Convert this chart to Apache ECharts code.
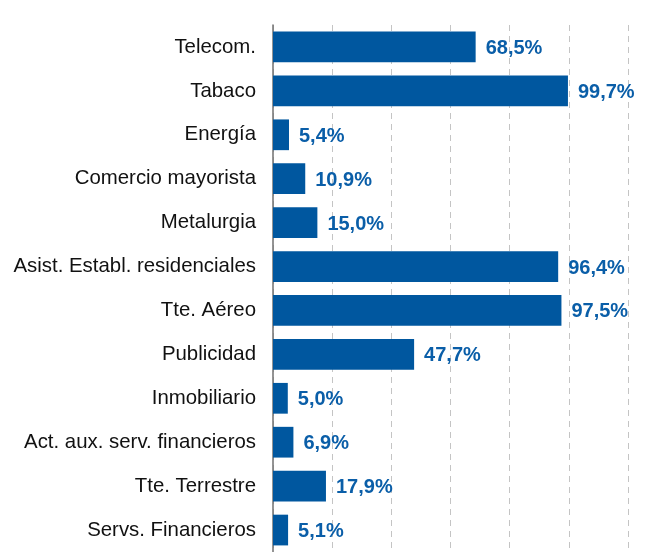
<!DOCTYPE html>
<html>
<head>
<meta charset="utf-8">
<script src="https://cdn.jsdelivr.net/npm/echarts@6/dist/echarts.min.js"></script>
<style>
  html, body { margin: 0; padding: 0; background: #fff; }
  #chart { width: 646px; height: 552px; }
</style>
</head>
<body>
<div id="chart"></div>
<script>
const sectores = [
  "Telecom.",
  "Tabaco",
  "Energía",
  "Comercio mayorista",
  "Metalurgia",
  "Asist. Establ. residenciales",
  "Tte. Aéreo",
  "Publicidad",
  "Inmobiliario",
  "Act. aux. serv. financieros",
  "Tte. Terrestre",
  "Servs. Financieros",
];
const valores = [68.5, 99.7, 5.4, 10.9, 15.0, 96.4, 97.5, 47.7, 5.0, 6.9, 17.9, 5.1];

const chart = echarts.init(document.getElementById("chart"));
const option = {
  backgroundColor: "#fff",
  animation: false,
  grid: {
    left: 273,
    right: 18,
    top: 25,
    bottom: 0,
    containLabel: false,
  },
  xAxis: {
    type: "value",
    min: 0,
    max: 120,
    interval: 20,
    axisLabel: { show: false },
    axisLine: { show: false },
    axisTick: { show: false },
    splitLine: {
      show: true,
      lineStyle: { color: "#c4c4c4", type: [6, 5], width: 1 },
    },
  },
  yAxis: {
    type: "category",
    inverse: true,
    data: sectores,
    axisTick: { show: false },
    axisLine: { show: true, lineStyle: { color: "#707070", width: 1.5 } },
    axisLabel: {
      color: "#111",
      fontSize: 20.4,
      fontFamily: "'Liberation Sans'",
      margin: 17,
      padding: [3, 0, 0, 0],
    },
  },
  series: [
    {
      type: "bar",
      data: valores,
      barCategoryGap: "30%",
      itemStyle: { color: "#00579f" },
      label: {
        show: true,
        position: "right",
        distance: 10,
        offset: [0, 1.5],
        color: "#0a5ea8",
        fontWeight: "bold",
        fontSize: 20,
        fontFamily: "'Liberation Sans'",
        formatter: (p) => p.value.toFixed(1).replace(".", ",") + "%",
      },
    },
  ],
};
chart.setOption(option);
</script>
</body>
</html>
